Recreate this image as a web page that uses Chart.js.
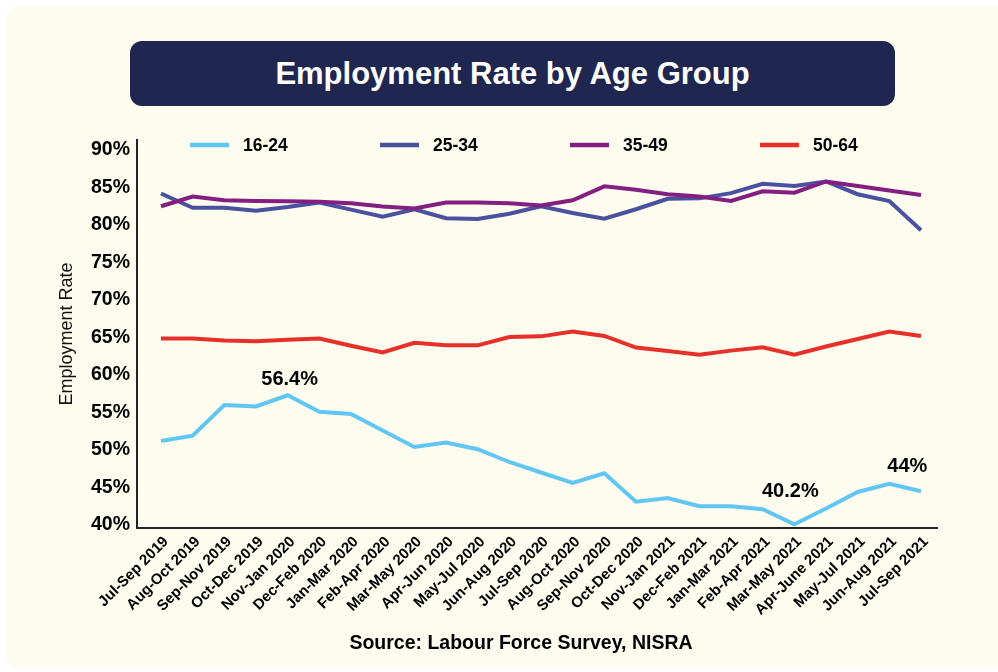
<!DOCTYPE html>
<html>
<head>
<meta charset="utf-8">
<script src="https://cdn.jsdelivr.net/npm/chart.js@4.4.0/dist/chart.umd.min.js"></script>
<style>
  html, body { margin: 0; padding: 0; background: #fff; }
  body { width: 998px; height: 672px; position: relative; overflow: hidden; font-family: "Liberation Sans", Arial, sans-serif; }
  #card { position: absolute; left: 6px; top: 6px; width: 1010px; height: 662px; background: #fefcef; border-radius: 12px; }
  #title { position: absolute; left: 130px; top: 41px; width: 765px; height: 65px; background: #1f2650; border-radius: 12px;
           color: #fff; display: flex; align-items: center; justify-content: center; font: bold 31px "Liberation Sans", Arial, sans-serif; }
  #source { position: absolute; left: 0; top: 631px; width: 1042px; text-align: center; white-space: nowrap;
            font: bold 19.5px "Liberation Sans", Arial, sans-serif; color: #000; line-height: 22px; }
  #chart { position: absolute; left: 0; top: 0; }
</style>
</head>
<body>
<div id="card"></div>
<div id="title">Employment Rate by Age Group</div>
<canvas id="chart" width="998" height="672"></canvas>
<div id="source">Source: Labour Force Survey, NISRA</div>
<script>
// Data ------------------------------------------------------------------------------------------
const quarters = ['Jul-Sep 2019','Aug-Oct 2019','Sep-Nov 2019','Oct-Dec 2019','Nov-Jan 2020','Dec-Feb 2020',
  'Jan-Mar 2020','Feb-Apr 2020','Mar-May 2020','Apr-Jun 2020','May-Jul 2020','Jun-Aug 2020','Jul-Sep 2020',
  'Aug-Oct 2020','Sep-Nov 2020','Oct-Dec 2020','Nov-Jan 2021','Dec-Feb 2021','Jan-Mar 2021','Feb-Apr 2021',
  'Mar-May 2021','Apr-June 2021','May-Jul 2021','Jun-Aug 2021','Jul-Sep 2021'];
const age16to24 = [51.2, 51.9, 56.0, 55.8, 57.3, 55.1, 54.8, 52.6, 50.4, 51.0, 50.1, 48.4, 47.0, 45.6, 46.9,
  43.1, 43.6, 42.5, 42.5, 42.1, 40.1, 42.2, 44.4, 45.5, 44.5];
const age25to34 = [84.2, 82.3, 82.3, 81.9, 82.4, 83.0, 82.05, 81.1, 82.1, 80.9, 80.8, 81.5, 82.5, 81.6, 80.85,
  82.1, 83.5, 83.55, 84.25, 85.5, 85.2, 85.8, 84.1, 83.2, 79.3];
const age35to49 = [82.5, 83.8, 83.3, 83.2, 83.15, 83.1, 82.9, 82.45, 82.2, 83.0, 83.0, 82.9, 82.6, 83.3, 85.15,
  84.7, 84.1, 83.8, 83.2, 84.5, 84.3, 85.8, 85.2, 84.6, 84.0];
const age50to64 = [64.85, 64.85, 64.6, 64.5, 64.7, 64.85, 63.9, 63.0, 64.3, 63.95, 63.95, 65.05, 65.15, 65.8, 65.2,
  63.65, 63.2, 62.7, 63.25, 63.7, 62.7, 63.8, 64.8, 65.8, 65.2];
const yTicks = [40, 45, 50, 55, 60, 65, 70, 75, 80, 85, 90];
// callouts on the 16-24 line
const calloutIndex = [4, 20, 23];
const calloutText = ['56.4%', '40.2%', '44%'];
const calloutShift = [[2, -16], [-4, -33], [18, -17]];

const toPoints = arr => arr.map((v, i) => ({x: i, y: v}));
const FONT = '"Liberation Sans", Arial, sans-serif';

// Legend drawn as short lines, spaced like the original
const lineLegend = {
  id: 'lineLegend',
  afterDraw(chart) {
    const ctx = chart.ctx;
    ctx.save();
    ctx.font = 'bold 17.5px ' + FONT;
    ctx.textBaseline = 'middle';
    chart.data.datasets.forEach((ds, i) => {
      const x = 190 + i * 190, y = 145;
      ctx.strokeStyle = ds.borderColor;
      ctx.lineWidth = 4.5;
      ctx.beginPath();
      ctx.moveTo(x, y);
      ctx.lineTo(x + 39, y);
      ctx.stroke();
      ctx.fillStyle = '#000';
      ctx.fillText(ds.label, x + 53, y + 1);
    });
    ctx.restore();
  }
};

// Value labels above selected points
const callouts = {
  id: 'callouts',
  afterDatasetsDraw(chart) {
    const ctx = chart.ctx;
    const meta = chart.getDatasetMeta(0);
    ctx.save();
    ctx.font = 'bold 20px ' + FONT;
    ctx.fillStyle = '#000';
    ctx.textAlign = 'center';
    ctx.textBaseline = 'middle';
    calloutIndex.forEach((idx, k) => {
      const pt = meta.data[idx];
      ctx.fillText(calloutText[k], pt.x + calloutShift[k][0], pt.y + calloutShift[k][1]);
    });
    ctx.restore();
  }
};

const lineStyle = {borderWidth: 4, pointRadius: 0, tension: 0, fill: false};

new Chart(document.getElementById('chart'), {
  type: 'line',
  data: {
    datasets: [
      {label: '16-24', data: toPoints(age16to24), borderColor: '#62c6f2', order: 0, ...lineStyle},
      {label: '25-34', data: toPoints(age25to34), borderColor: '#4a52a0', order: 2, ...lineStyle},
      {label: '35-49', data: toPoints(age35to49), borderColor: '#821f80', order: 1, ...lineStyle},
      {label: '50-64', data: toPoints(age50to64), borderColor: '#e8302a', order: 0, ...lineStyle}
    ]
  },
  options: {
    responsive: false,
    animation: false,
    devicePixelRatio: 1,
    layout: {padding: {left: 50, top: 140, right: 61, bottom: 44}},
    plugins: {legend: {display: false}, tooltip: {enabled: false}},
    scales: {
      x: {
        type: 'linear',
        min: -0.758,
        max: 24.505,
        afterBuildTicks: s => { s.ticks = quarters.map((q, i) => ({value: i})); },
        afterFit: s => { s.height = 100; },
        grid: {display: false, drawTicks: false},
        border: {display: true, color: '#222', width: 2},
        ticks: {
          autoSkip: false, minRotation: 45, maxRotation: 45, padding: 5, labelOffset: 5, color: '#000',
          font: {family: FONT, size: 15, weight: 'bold'},
          callback: v => quarters[v]
        }
      },
      y: {
        min: 39.6,
        max: 91.33,
        afterBuildTicks: s => { s.ticks = yTicks.map(v => ({value: v})); },
        afterFit: s => { s.width = 87; },
        grid: {display: false, drawTicks: false},
        border: {display: true, color: '#222', width: 2},
        ticks: {padding: 7, color: '#000', font: {family: FONT, size: 19.5, weight: 'bold'}, callback: v => v + '%'},
        title: {display: true, text: 'Employment Rate', color: '#111', padding: {top: 6}, font: {family: FONT, size: 18}}
      }
    }
  },
  plugins: [lineLegend, callouts]
});
</script>
</body>
</html>
